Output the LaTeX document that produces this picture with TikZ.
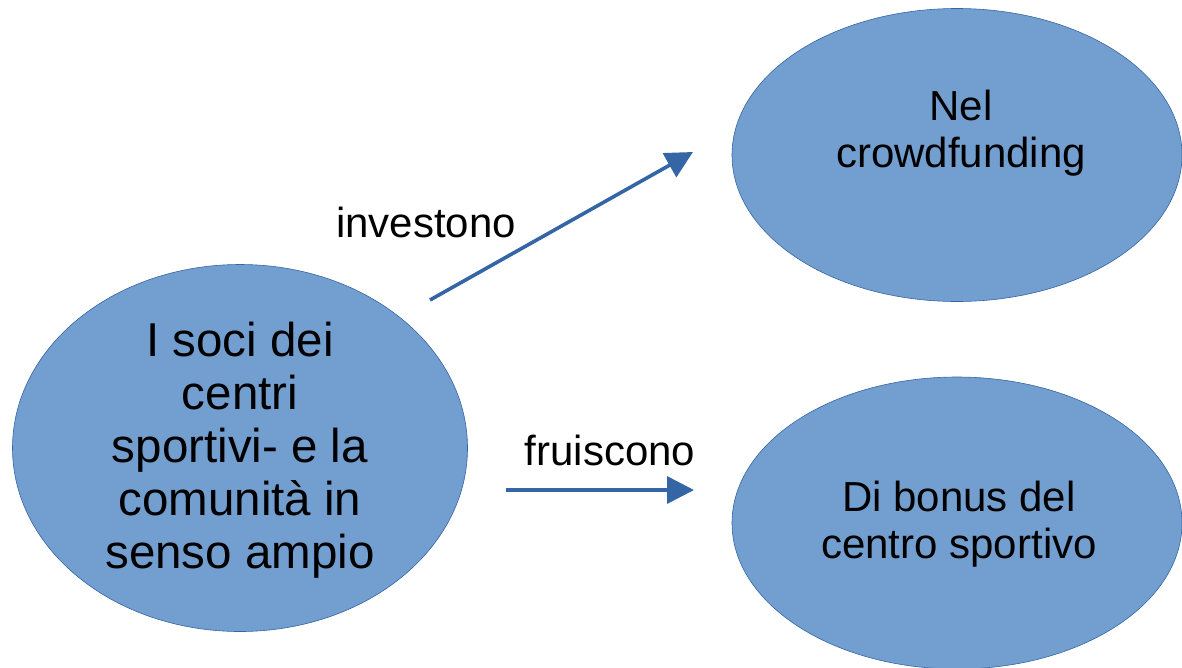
\documentclass[tikz,border=0pt]{standalone}
\usepackage{fontspec}
\setmainfont{Liberation Sans}
\usetikzlibrary{arrows.meta,shapes.geometric}
\definecolor{efill}{HTML}{729FCF}
\definecolor{eline}{HTML}{3465A4}
\begin{document}
\begin{tikzpicture}[x=1pt,y=-1pt,
  bubble/.style={ellipse,fill=efill,draw=eline,line width=0.6pt,inner sep=0pt,align=center},
  conn/.style={draw=eline,line width=3.6pt,-{Triangle[length=27pt,width=27pt]}},
  lbl/.style={font=\fontsize{42}{47}\selectfont,inner sep=0pt}]
\useasboundingbox (0,0) rectangle (1182,667);
\begin{scope}
\clip (0,0) rectangle (1182,667);
\node[bubble,minimum width=455pt,minimum height=367pt] (L) at (240,448) {};
\node[bubble,minimum width=450pt,minimum height=293pt] (TR) at (957,155) {};
\node[bubble,minimum width=450pt,minimum height=292pt] (BR) at (957,523) {};
\end{scope}
\node[font=\fontsize{47.5}{53}\selectfont,align=center] (Lt) at (240,450) {I soci dei\\centri\\sportivi- e la\\comunità in\\senso ampio};
\node[lbl,align=center] (TRt) at (961,133) {Nel\\crowdfunding};
\node[lbl,align=center] (BRt) at (959,524) {Di bonus del\\centro sportivo};
\coordinate (a1s) at (430,300);
\coordinate (a1e) at (693,152);
\coordinate (a2s) at (506,490);
\coordinate (a2e) at (694,490);
\draw[conn] (a1s) -- (a1e);
\draw[conn] (a2s) -- (a2e);
\node[lbl] (l1) at (426,222) {investono};
\node[lbl] (l2) at (610,450) {fruiscono};
\end{tikzpicture}
\end{document}
